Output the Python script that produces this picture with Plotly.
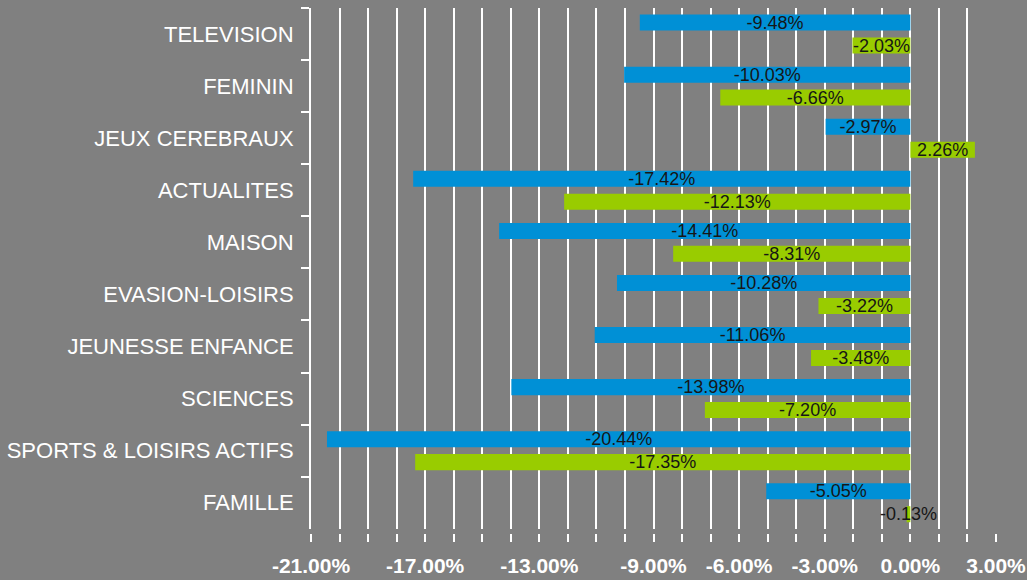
import plotly.graph_objects as go

categories = ["TELEVISION", "FEMININ", "JEUX CEREBRAUX", "ACTUALITES", "MAISON",
              "EVASION-LOISIRS", "JEUNESSE ENFANCE", "SCIENCES",
              "SPORTS & LOISIRS ACTIFS", "FAMILLE"]
series_blue = [-9.48, -10.03, -2.97, -17.42, -14.41, -10.28, -11.06, -13.98, -20.44, -5.05]
series_green = [-2.03, -6.66, 2.26, -12.13, -8.31, -3.22, -3.48, -7.20, -17.35, -0.13]
tick_values = [-21, -17, -13, -9, -6, -3, 0, 3]
tick_labels = ["-21.00%", "-17.00%", "-13.00%", "-9.00%", "-6.00%", "-3.00%", "0.00%", "3.00%"]

BG = "#808080"
FONT = "Liberation Sans, Arial, sans-serif"
label_font = dict(family=FONT, size=18, color="#161616")

fig = go.Figure()
fig.add_trace(go.Bar(
    y=categories, x=series_blue, orientation="h", name="A",
    marker=dict(color="#0090D6", line=dict(width=0)),
    texttemplate="%{x:.2f}%", textposition="inside", insidetextanchor="middle",
    constraintext="none", insidetextfont=label_font, textangle=0,
))
fig.add_trace(go.Bar(
    y=categories, x=series_green, orientation="h", name="B",
    marker=dict(color="#99CC00", line=dict(width=0)),
    texttemplate="%{x:.2f}%", textposition="inside", insidetextanchor="middle",
    constraintext="none", insidetextfont=label_font, textangle=0,
))

fig.update_layout(
    width=1027, height=580,
    paper_bgcolor=BG, plot_bgcolor=BG,
    margin=dict(l=311, r=31, t=8, b=47, autoexpand=False),
    barmode="group", bargap=0.12, bargroupgap=0.3,
    showlegend=False,
    xaxis=dict(
        range=[-21, 3], tickvals=tick_values, ticktext=tick_labels,
        anchor="free", position=0,
        showgrid=True, gridcolor="white", gridwidth=1.5,
        zeroline=False, showline=False,
        ticks="outside", ticklen=8, tickwidth=1.5, tickcolor="white",
        ticklabelstandoff=6, ticklabeloverflow="allow",
        tickfont=dict(family=FONT, size=21, color="white", weight="bold"),
        minor=dict(dtick=1, tick0=0, showgrid=True, gridcolor="white", gridwidth=1.5,
                   ticks="outside", ticklen=8, tickwidth=1.5, tickcolor="white"),
        fixedrange=True,
    ),
    yaxis=dict(
        type="category", autorange="reversed", domain=[0.008, 1],
        showgrid=False, zeroline=False,
        showline=True, linecolor="white", linewidth=2,
        ticks="outside", tickson="boundaries", ticklen=8, tickwidth=1.5, tickcolor="white",
        ticklabelstandoff=11,
        tickfont=dict(family=FONT, size=22, color="white"),
        fixedrange=True,
    ),
)

fig.write_html("out.html", config={"displayModeBar": False},
               post_script="document.body.style.margin='0px';")
